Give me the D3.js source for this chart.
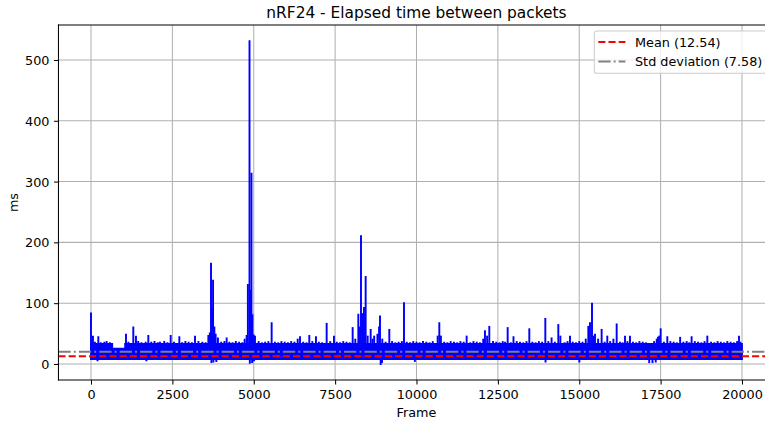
<!DOCTYPE html>
<html>
<head>
<meta charset="utf-8">
<script src="https://cdn.jsdelivr.net/npm/d3@7"></script>
<style>
  html, body { margin: 0; padding: 0; background: #fff; overflow: hidden; }
  svg { display: block; font-family: "DejaVu Sans", sans-serif; }
</style>
</head>
<body>
<svg id="chart" width="765" height="424"></svg>
<script>
// ---- data ----
const xTicks = [0, 2500, 5000, 7500, 10000, 12500, 15000, 17500, 20000];
const yTicks = [0, 100, 200, 300, 400, 500];

// envelope of the dense band of ordinary packet gaps (ms), step after each frame
const bandFrames = [0, 650, 1050, 19999];
const bandHigh   = [33, 25, 33, 33];
const bandLow    = [8, 8, 8, 8];

// individual excursions out of the band (frame, ms)
const spikeFrames = [0,60,120,225,300,410,480,580,1075,1150,1300,1382,1450,1550,1680,1761,1850,1950,2050,2120,2250,2350,2448,2550,2714,2800,2900,3000,3100,3195,3300,3420,3520,3605,3650,3687,3720,3750,3790,3830,3900,4000,4100,4168,4250,4350,4450,4550,4650,4720,4782,4820,4870,4900,4930,4960,5000,5038,5150,5250,5350,5450,5550,5650,5750,5850,5950,6050,6150,6250,6350,6421,6520,6620,6707,6800,6912,7000,7100,7240,7350,7465,7550,7650,7750,7850,7950,8039,8120,8213,8260,8295,8346,8387,8438,8500,8592,8650,8700,8800,8850,8879,8950,9050,9165,9250,9350,9450,9550,9616,9700,9800,9900,10000,10100,10200,10300,10400,10500,10650,10701,10750,10850,10950,11050,11150,11250,11350,11450,11541,11650,11750,11850,11950,12050,12104,12170,12237,12350,12450,12550,12650,12720,12801,12900,12980,13080,13180,13280,13380,13466,13560,13660,13760,13860,13958,14050,14150,14250,14357,14420,14550,14640,14716,14800,14900,15000,15100,15200,15279,15330,15392,15440,15484,15580,15688,15780,15862,15950,16050,16150,16250,16330,16406,16480,16559,16650,16750,16850,16950,17050,17300,17380,17420,17460,17502,17600,17706,17800,17900,18000,18100,18200,18300,18380,18452,18550,18650,18750,18850,18935,19050,19150,19250,19350,19450,19550,19650,19750,19850,19908,19950,
  200,1700,3700,3760,3850,4880,4950,5010,8900,8940,9950,13965,15003,17150,17250,17350];
const spikeValues = [83,45,35,44,34,35,36,34,48,35,60,45,36,34,35,46,35,36,34,35,36,34,46,35,44,34,36,35,34,45,36,35,34,46,50,165,90,137,60,48,42,35,36,42,35,34,36,35,34,40,46,130,531,120,313,80,47,45,36,34,35,36,67,35,34,36,35,34,36,35,40,44,35,34,46,36,44,35,34,66,36,45,35,34,36,35,34,59,40,81,60,210,82,92,143,45,56,40,45,48,60,78,40,35,56,36,34,35,36,100,35,34,36,35,34,36,35,34,36,45,67,45,35,34,36,35,34,36,35,45,34,36,35,34,40,54,45,61,36,35,34,36,35,59,34,44,36,35,34,36,57,35,34,36,35,74,36,42,35,64,45,34,36,45,35,34,36,35,40,61,67,99,45,48,40,56,35,45,36,40,65,35,34,45,36,45,35,34,36,35,34,36,40,43,45,57,35,44,36,35,34,43,35,36,34,44,36,35,34,36,45,35,34,36,35,34,36,35,34,36,45,35,
  6,6,3,4,5,2,3,6,0,3,5,4,4,3,3,4];

const meanValue = 12.54;
const stdValue = 7.58;
const titleText = "nRF24 - Elapsed time between packets";
const xLabel = "Frame";
const yLabel = "ms";
const legendLabels = ["Mean (12.54)", "Std deviation (7.58)"];

// ---- layout ----
const svg = d3.select("#chart");
const L = 58.45, R = 774.5, T = 25, B = 380.1;
const lw = 1.93;
const x = d3.scaleLinear().domain([-999.95, 20998.95]).range([L, R]);
const y = d3.scaleLinear().domain([-26.55, 557.55]).range([B, T]);

svg.append("rect").attr("width", 765).attr("height", 424).attr("fill", "#fff");

svg.append("defs").append("clipPath").attr("id", "clip")
  .append("rect").attr("x", L).attr("y", T).attr("width", R - L).attr("height", B - T);

// grid
const grid = svg.append("g");
grid.selectAll(".gx").data(xTicks).enter().append("line")
  .attr("x1", d => x(d)).attr("x2", d => x(d)).attr("y1", T).attr("y2", B)
  .attr("stroke", "#b0b0b0").attr("stroke-width", 1.03);
grid.selectAll(".gy").data(yTicks).enter().append("line")
  .attr("y1", d => y(d)).attr("y2", d => y(d)).attr("x1", L).attr("x2", R)
  .attr("stroke", "#b0b0b0").attr("stroke-width", 1.03);

const plot = svg.append("g").attr("clip-path", "url(#clip)");

// band
const bandData = bandFrames.map((f, i) => ({f, hi: bandHigh[i], lo: bandLow[i]}));
plot.append("path").datum(bandData)
  .attr("d", d3.area().x(d => x(d.f)).y0(d => y(d.lo)).y1(d => y(d.hi)).curve(d3.curveStepAfter))
  .attr("fill", "#0000ff").attr("stroke", "#0000ff").attr("stroke-width", lw).attr("stroke-linejoin", "miter");

// spikes
const spikes = spikeFrames.map((f, i) => ({f, v: spikeValues[i]}));
plot.selectAll(".spike").data(spikes).enter().append("line")
  .attr("x1", d => x(d.f)).attr("x2", d => x(d.f))
  .attr("y1", y(20)).attr("y2", d => y(d.v))
  .attr("stroke", "#0000ff").attr("stroke-width", lw).attr("stroke-linecap", "square");

// mean & std lines
plot.append("line").attr("x1", L).attr("x2", R).attr("y1", y(meanValue)).attr("y2", y(meanValue))
  .attr("stroke", "#ff0000").attr("stroke-width", lw).attr("stroke-dasharray", "7.1,3.1");
plot.append("line").attr("x1", L).attr("x2", R)
  .attr("y1", y(meanValue + stdValue)).attr("y2", y(meanValue + stdValue))
  .attr("stroke", "#808080").attr("stroke-width", lw).attr("stroke-dasharray", "12.3,3.1,1.9,3.1");

// spines
const sp = svg.append("g").attr("stroke", "#000").attr("stroke-width", 1.03).attr("stroke-linecap", "square");
sp.append("line").attr("x1", L).attr("x2", L).attr("y1", T).attr("y2", B);
sp.append("line").attr("x1", L).attr("x2", R).attr("y1", B).attr("y2", B);
sp.append("line").attr("x1", L).attr("x2", R).attr("y1", T).attr("y2", T);
sp.append("line").attr("x1", R).attr("x2", R).attr("y1", T).attr("y2", B);

// axes
const fs = 12.8;
const xAxis = d3.axisBottom(x).tickValues(xTicks).tickSize(4.5).tickPadding(4.5).tickFormat(d3.format("d"));
const gx = svg.append("g").attr("transform", `translate(0,${B})`).call(xAxis);
gx.select(".domain").remove();
gx.selectAll(".tick line").attr("stroke", "#000").attr("stroke-width", 1.03);
gx.selectAll(".tick text").attr("fill", "#000").attr("font-size", fs).attr("font-family", "DejaVu Sans").attr("dy", "0.76em");

const yAxis = d3.axisLeft(y).tickValues(yTicks).tickSize(4.5).tickPadding(4.5).tickFormat(d3.format("d"));
const gy = svg.append("g").attr("transform", `translate(${L},0)`).call(yAxis);
gy.select(".domain").remove();
gy.selectAll(".tick line").attr("stroke", "#000").attr("stroke-width", 1.03);
gy.selectAll(".tick text").attr("fill", "#000").attr("font-size", fs).attr("font-family", "DejaVu Sans").attr("dy", "0.36em");

// labels
svg.append("text").attr("x", (L + R) / 2).attr("y", 17.5).attr("text-anchor", "middle")
  .attr("font-size", 15.4).attr("fill", "#000").text(titleText);
svg.append("text").attr("x", (L + R) / 2).attr("y", 416.5).attr("text-anchor", "middle")
  .attr("font-size", fs).attr("fill", "#000").text(xLabel);
svg.append("text").attr("transform", `translate(18,${(T + B) / 2}) rotate(-90)`).attr("text-anchor", "middle")
  .attr("font-size", fs).attr("fill", "#000").text(yLabel);

// legend
const lg = svg.append("g");
lg.append("rect").attr("x", 594.3).attr("y", 31).attr("width", 173.8).attr("height", 42.3).attr("rx", 2.6)
  .attr("fill", "#fff").attr("fill-opacity", 0.8).attr("stroke", "#cccccc").attr("stroke-width", 1.03);
const legendStyles = [
  {color: "#ff0000", dash: "7.1,3.1", y: 42},
  {color: "#808080", dash: "12.3,3.1,1.9,3.1", y: 61.5}
];
legendLabels.forEach((lab, i) => {
  const s = legendStyles[i];
  lg.append("line").attr("x1", 598.3).attr("x2", 625.4).attr("y1", s.y).attr("y2", s.y)
    .attr("stroke", s.color).attr("stroke-width", lw).attr("stroke-dasharray", s.dash);
  lg.append("text").attr("x", 635).attr("y", s.y).attr("dy", "0.36em")
    .attr("font-size", fs).attr("fill", "#000").text(lab);
});
</script>
</body>
</html>
